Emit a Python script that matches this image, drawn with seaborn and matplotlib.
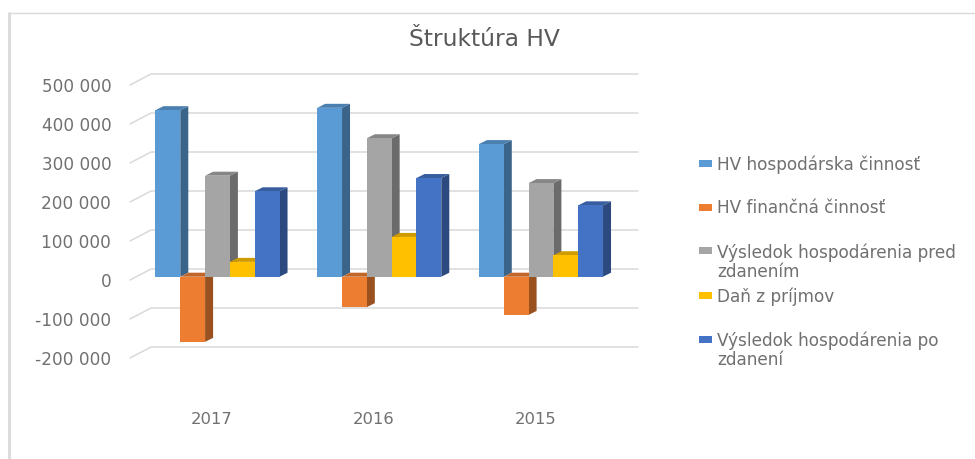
import matplotlib
matplotlib.use("Agg")
import matplotlib.pyplot as plt
import matplotlib.transforms as mtrans
from matplotlib.patches import Polygon, Rectangle
import pandas as pd
import seaborn as sns

# =========================
# Data
# =========================

years = ["2017", "2016", "2015"]
series_names = [
    "HV hospodárska činnosť",
    "HV finančná činnosť",
    "Výsledok hospodárenia pred\nzdanením",
    "Daň z príjmov",
    "Výsledok hospodárenia po\nzdanení",
]
hv_hospodarska = [427000, 433000, 340000]
hv_financna = [-167000, -78000, -98000]
vh_pred = [259000, 355000, 240000]
dan = [38000, 102000, 55000]
vh_po = [219000, 253000, 183000]
y_ticks = [-200000, -100000, 0, 100000, 200000, 300000, 400000, 500000]
y_tick_labels = ["-200 000", "-100 000", "0", "100 000", "200 000", "300 000", "400 000", "500 000"]

colors = ["#5B9BD5", "#ED7D31", "#A5A5A5", "#FFC000", "#4472C4"]
side_colors = ["#3A648A", "#99511F", "#6B6B6B", "#A67C00", "#2C4A7F"]
top_colors = ["#4A7FAF", "#C16628", "#868686", "#CF9C00", "#375D9F"]
text_color = "#707070"
grid_color = "#D9D9D9"

df = pd.DataFrame({
    "year": years * 5,
    "series": [s for s in series_names for _ in years],
    "value": hv_hospodarska + hv_financna + vh_pred + dan + vh_po,
})

# =========================
# Figure, axes in pixels
# =========================

W, H = 975, 459
PX_PER_CAT = 161.75
PX_PER_VAL = 39 / 100000
left, right = 130, 638
top, bottom = 81.7, 354.7

sns.set_style("white")
plt.rcParams["font.family"] = ["DejaVu Sans"]

fig = plt.figure(figsize=(W / 100, H / 100), dpi=100)
ax = fig.add_axes([left / W, 1 - bottom / H, (right - left) / W, (bottom - top) / H])

sns.barplot(
    data=df, x="year", y="value", hue="series", order=years, hue_order=series_names,
    palette=colors, width=0.767, gap=0, legend=False, ax=ax, saturation=1,
)

x0 = -(217.5 - left) / PX_PER_CAT
x1 = (right - 217.5) / PX_PER_CAT
ax.set_xlim(x0, x1)
ax.set_ylim(-200000, 500000)
sns.despine(ax=ax, left=True, bottom=True, right=True, top=True)
ax.patch.set_alpha(0)
ax.set_xlabel("")
ax.set_ylabel("")

dx = 8 / PX_PER_CAT
dy = 4 / PX_PER_VAL

# =========================
# Pseudo 3D grid
# =========================

for v in y_ticks:
    ax.plot(
        [x0, x0 + 21 / PX_PER_CAT, x1],
        [v - 3.3 / PX_PER_VAL, v + 7.7 / PX_PER_VAL, v + 7.7 / PX_PER_VAL],
        color=grid_color, lw=1.1, zorder=0.5, clip_on=False,
    )

# =========================
# Pseudo 3D bars
# =========================

z = 2
for i, container in enumerate(ax.containers):
    for bar in container:
        bx0, bx1 = bar.get_x(), bar.get_x() + bar.get_width()
        lo = min(bar.get_y(), bar.get_y() + bar.get_height())
        hi = max(bar.get_y(), bar.get_y() + bar.get_height())
        ax.add_patch(Polygon(
            [(bx1, lo), (bx1 + dx, lo + dy), (bx1 + dx, hi + dy), (bx1, hi)],
            facecolor=side_colors[i], edgecolor="none", zorder=z, clip_on=False,
        ))
        ax.add_patch(Polygon(
            [(bx0, hi), (bx0 + dx, hi + dy), (bx1 + dx, hi + dy), (bx1, hi)],
            facecolor=top_colors[i], edgecolor="none", zorder=z, clip_on=False,
        ))
        bar.set_zorder(z + 0.1)
        bar.set_edgecolor("none")
    z += 1

# =========================
# Ticks
# =========================

ax.set_yticks(y_ticks)
ax.set_yticklabels(y_tick_labels, fontsize=12.2, color=text_color)
ax.tick_params(axis="y", length=0, pad=13.5)
ax.tick_params(axis="x", length=0, pad=41, labelsize=11.8, labelcolor=text_color)

y_shift = mtrans.ScaledTranslation(0, -3.3 / 100, fig.dpi_scale_trans)
for lab in ax.get_yticklabels():
    lab.set_transform(lab.get_transform() + y_shift)
x_shift = mtrans.ScaledTranslation(-5.5 / 100, 0, fig.dpi_scale_trans)
for lab in ax.get_xticklabels():
    lab.set_transform(lab.get_transform() + x_shift)

# =========================
# Title, legend, frame
# =========================

fig.text(484.5 / W, 1 - 39 / H, "Štruktúra HV", ha="center", va="center", fontsize=16.8, color="#595959")

for i, name in enumerate(series_names):
    ly = 163 + 44 * i
    fig.patches.append(Rectangle(
        (699 / W, 1 - (ly + 3.5) / H), 13 / W, 7 / H,
        transform=fig.transFigure, facecolor=colors[i], edgecolor="none",
    ))
    fig.text(717 / W, 1 - (ly - 8) / H, name, ha="left", va="top", fontsize=12.2,
             color=text_color, linespacing=1.08)

fig.add_artist(plt.Line2D([8.5 / W, 8.5 / W], [0, 1 - 13 / H], color=grid_color, lw=2))
fig.add_artist(plt.Line2D([8.5 / W, 1], [1 - 13 / H, 1 - 13 / H], color=grid_color, lw=1))

fig.savefig("out.png", dpi=100)
